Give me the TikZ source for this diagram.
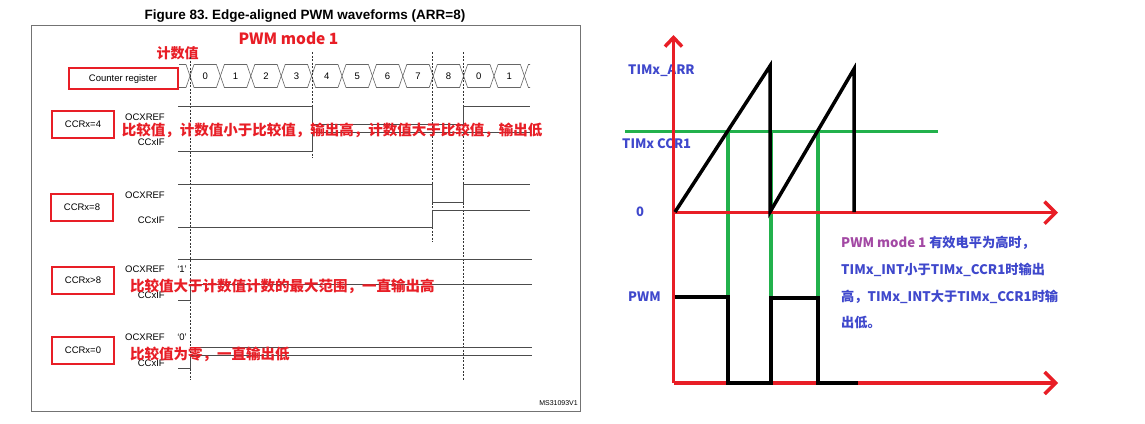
\documentclass[tikz,border=0pt]{standalone}
\usepackage{fontspec}
\usepackage{tikz}
\usetikzlibrary{arrows.meta}
\setmainfont{Liberation Sans}
\newfontfamily\cjk{Noto Sans CJK SC}
\definecolor{pred}{RGB}{232,30,38}
\definecolor{pgreen}{RGB}{34,177,76}
\definecolor{pblue}{RGB}{63,72,204}
\definecolor{ppurple}{RGB}{163,73,164}
\frenchspacing

\begin{document}
\begin{tikzpicture}[
    x=1pt,y=-1pt,
    wave/.style={line width=0.8pt, black!70},
    bus/.style={line width=0.6pt, black!60},
    guide/.style={line width=0.6pt, black!80, dash pattern=on 2pt off 1.5pt},
    tag/.style={draw=pred, line width=2pt, minimum width=62pt, minimum height=27pt, inner sep=0pt, font=\fontsize{9.5}{11}\selectfont},
    sig/.style={anchor=east, inner sep=0pt, font=\fontsize{9.5}{11}\selectfont},
    note/.style={anchor=west, inner sep=0pt, text=pred, font=\cjk\bfseries\fontsize{14.5}{17}\selectfont},
    blue/.style={anchor=west, inner sep=0pt, text=pblue, font=\cjk\bfseries\fontsize{13}{15}\selectfont},
    axis/.style={line width=3.5pt, pred},
    tip/.style={-{Straight Barb[length=11pt,width=22pt]}},
    ramp/.style={line width=3.5pt, black},
    level/.style={line width=3.5pt, pgreen}
    ]
    \useasboundingbox (0,0) rectangle (1145,423);
    \fill[white] (0,0) rectangle (1145,423);

    % left: datasheet figure
    \node[inner sep=0pt, font=\bfseries\fontsize{13.5}{15}\selectfont] (title) at (305,16) {Figure 83. Edge-aligned PWM waveforms (ARR=8)};
    \draw[line width=1pt, black!55] (31,25) rectangle (580,411);
    \node[note, anchor=center, font=\cjk\bfseries\fontsize{15.5}{17}\selectfont] (mode) at (288.5,38) {PWM mode 1};
    \node[note, anchor=center, font=\cjk\bfseries\fontsize{14}{16}\selectfont] (count) at (177.5,53) {计数值};

    % counter bus
    \node[tag, minimum width=109pt, minimum height=21pt] (cnt) at (123,78.7) {Counter register};
    \draw[bus] (179,64.5) -- (186,64.5) -- (190,76) -- (186,87.5) -- (179,87.5);
    \foreach \i/\v in {0/0,1/1,2/2,3/3,4/4,5/5,6/6,7/7,8/8,9/0,10/1} {
      \draw[bus] ({190+30.4*\i},76) -- ++(4,-11.5) -- ++(22.4,0) -- ++(4,11.5) -- ++(-4,11.5) -- ++(-22.4,0) -- cycle;
      \node[inner sep=0pt, font=\fontsize{9.5}{11}\selectfont] (c\i) at ({205.2+30.4*\i},76) {\v};
    }
    \draw[bus] (530,64.5) -- (528.4,64.5) -- (524.4,76) -- (528.4,87.5) -- (530,87.5);

    \draw[guide] (190,57) -- (190,380);
    \draw[guide] (312.7,52) -- (312.7,158);
    \draw[guide] (432.7,52) -- (432.7,242);
    \draw[guide] (463.3,52) -- (463.3,380);

    % CCRx=4
    \node[tag] (ccr4) at (83,124) {CCRx=4};
    \node[sig] (ref4) at (165,117) {OCXREF};
    \node[sig] (if4) at (165,142) {CCxIF};
    \draw[wave] (178,106.7) -- (312.7,106.7) -- (312.7,124.3) -- (463.3,124.3) -- (463.3,106.7) -- (530,106.7);
    \draw[wave] (178,151) -- (312.7,151) -- (312.7,132.7) -- (530,132.7);

    % CCRx=8
    \node[tag] (ccr8) at (82,207) {CCRx=8};
    \node[sig] (ref8) at (165,195) {OCXREF};
    \node[sig] (if8) at (165,220) {CCxIF};
    \draw[wave] (178,184.3) -- (432.7,184.3) -- (432.7,202.7) -- (463.3,202.7) -- (463.3,184.3) -- (530,184.3);
    \draw[wave] (178,227.7) -- (432.7,227.7) -- (432.7,210) -- (530,210);

    % CCRx>8
    \node[tag] (ccrhi) at (83,280) {CCRx>8};
    \node[sig] (refhi) at (165,269.3) {OCXREF};
    \node[sig, anchor=center] (one) at (182,269) {`1'};
    \node[sig] (ifhi) at (165,295) {CCxIF};
    \draw[wave] (178,259.3) -- (532,259.3);
    \draw[wave] (178,300.7) -- (190,300.7) -- (190,284) -- (532,284);

    % CCRx=0
    \node[tag] (ccr0) at (83,350) {CCRx=0};
    \node[sig] (ref0) at (165,337.7) {OCXREF};
    \node[sig, anchor=center] (zero) at (182,337.7) {`0'};
    \node[sig] (if0) at (165,363) {CCxIF};
    \draw[wave] (190,347.3) -- (532,347.3);
    \draw[wave] (178,368) -- (190,368) -- (190,355.5) -- (532,355.5);

    \node[note] (n4) at (121.7,130) {比较值，计数值小于比较值，输出高，计数值大于比较值，输出低};
    \node[note] (nhi) at (130,286.7) {比较值大于计数值计数的最大范围，一直输出高};
    \node[note] (n0) at (130,354.3) {比较值为零，一直输出低};
    \node[sig, font=\fontsize{7}{8}\selectfont] (fig) at (578,403) {MS31093V1};

    % right: sketch
    \node[blue] (arr) at (628,71) {TIMx\_ARR};
    \node[blue] (ccr) at (622,144) {TIMx CCR1};
    \node[blue, anchor=center] (o) at (640,212) {0};
    \node[blue] (pwm) at (628,297) {PWM};

    \draw[level] (625,131.7) -- (938,131.7);
    \foreach \x in {728,771,818}
      \draw[level] (\x,131.7) -- (\x,297);
    \draw[axis, -{Straight Barb[length=9pt,width=17pt]}] (673.5,383) -- (673.5,35);
    \draw[axis, tip] (673.5,212.7) -- (1058,212.7);
    \draw[axis, tip] (673.5,383) -- (1058,383);
    \draw[ramp] (675,212) -- (770,66) -- (770,212) -- (854,69) -- (854,212);
    \draw[ramp] (675,297) -- (728,297) -- (728,383) -- (771,383) -- (771,298) -- (818,298) -- (818,383) -- (858,383);

    \node[blue, font=\cjk\bfseries\fontsize{13.2}{16}\selectfont] (t1) at (841,243) {\textcolor{ppurple}{PWM mode 1} 有效电平为高时，};
    \node[blue, font=\cjk\bfseries\fontsize{13.2}{16}\selectfont] (t2) at (841,270) {TIMx\_INT小于TIMx\_CCR1时输出};
    \node[blue, font=\cjk\bfseries\fontsize{13.2}{16}\selectfont] (t3) at (841,297) {高，TIMx\_INT大于TIMx\_CCR1时输};
    \node[blue, font=\cjk\bfseries\fontsize{13.2}{16}\selectfont] (t4) at (841,322) {出低。};
  \end{tikzpicture}
\end{document}
